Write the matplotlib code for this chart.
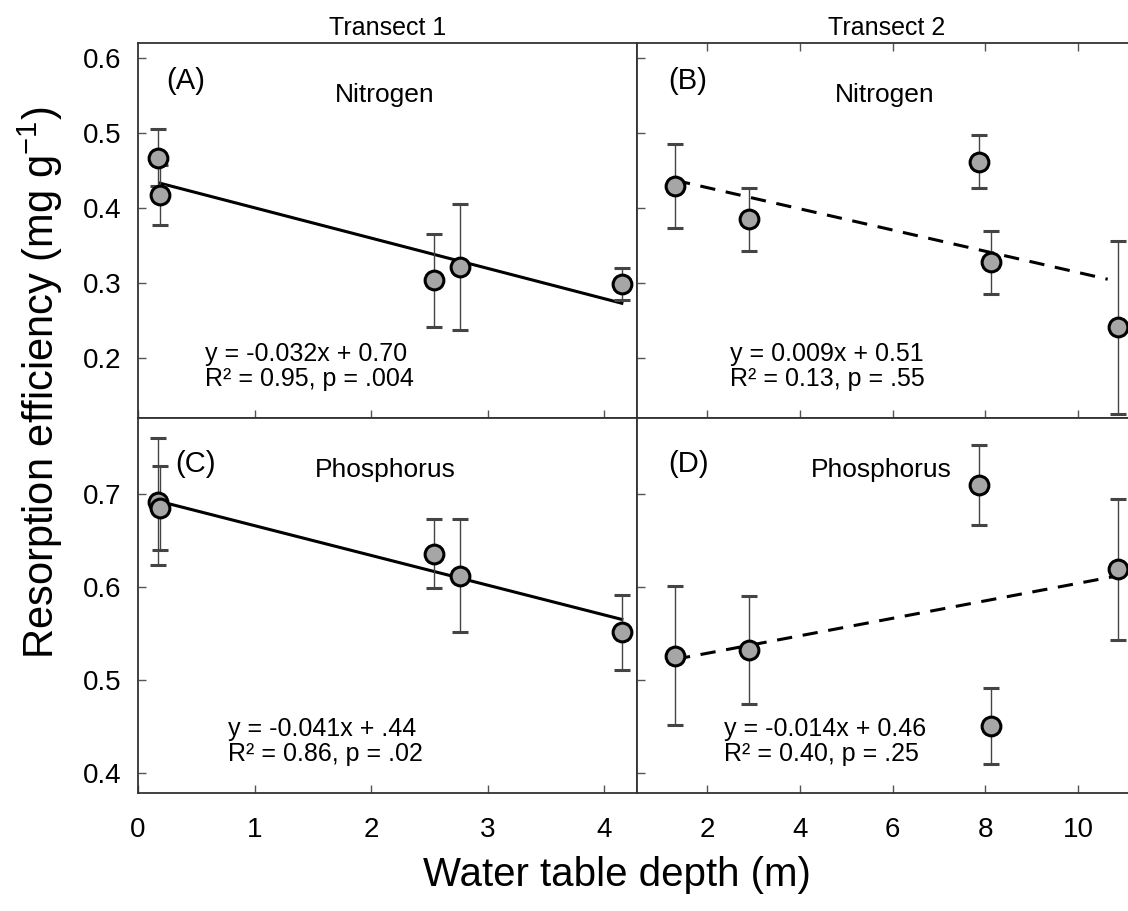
import matplotlib
matplotlib.use("Agg")
import matplotlib.pyplot as plt

plt.rcParams['font.family'] = ['Liberation Sans', 'DejaVu Sans']
plt.rcParams['mathtext.fontset'] = 'custom'
plt.rcParams['mathtext.rm'] = 'Liberation Sans'
plt.rcParams['mathtext.it'] = 'Liberation Sans'

# ---- data ----
# Transect 1
t1_x = [0.17, 0.19, 2.54, 2.76, 4.15]
t1_N = [0.467, 0.417, 0.304, 0.321, 0.299]
t1_N_err = [0.038, 0.040, 0.062, 0.084, 0.021]
t1_P = [0.692, 0.685, 0.636, 0.612, 0.551]
t1_P_err = [0.068, 0.045, 0.037, 0.061, 0.040]
# Transect 2
t2_x_N = [1.31, 2.90, 7.86, 8.12, 10.86]
t2_N = [0.430, 0.385, 0.462, 0.328, 0.241]
t2_N_err = [0.056, 0.042, 0.035, 0.042, 0.115]
t2_x_P = [1.31, 2.90, 7.86, 8.12, 10.86]
t2_P = [0.526, 0.532, 0.710, 0.450, 0.619]
t2_P_err = [0.075, 0.058, 0.043, 0.041, 0.076]

# fitted lines (end points)
fitA_x = [0.19, 4.15]; fitA_y = [0.433, 0.273]
fitB_x = [1.31, 10.64]; fitB_y = [0.437, 0.305]
fitC_x = [0.19, 4.15]; fitC_y = [0.692, 0.565]
fitD_x = [1.31, 10.86]; fitD_y = [0.522, 0.612]

labels = ['(A)', '(B)', '(C)', '(D)']
nutrients = ['Nitrogen', 'Nitrogen', 'Phosphorus', 'Phosphorus']
eq1 = ['y = -0.032x + 0.70', 'y = 0.009x + 0.51', 'y = -0.041x + .44', 'y = -0.014x + 0.46']
eq2 = ['R² = 0.95, p = .004', 'R² = 0.13, p = .55', 'R² = 0.86, p = .02', 'R² = 0.40, p = .25']

W, H = 1128, 911
fig = plt.figure(figsize=(W / 100, H / 100), dpi=100)

def pos(l, t, r, b):
    return [l / W, 1 - b / H, (r - l) / W, (b - t) / H]

axA = fig.add_axes(pos(138, 43, 637, 418))
axB = fig.add_axes(pos(637, 43, 1136, 418))
axC = fig.add_axes(pos(138, 418, 637, 793))
axD = fig.add_axes(pos(637, 418, 1136, 793))

mk = dict(fmt='o', ms=13.5, mfc='#a6a6a6', mec='black', mew=2.2,
          ecolor='#444444', elinewidth=1.0, capsize=5.5, capthick=1.0, zorder=3)

axA.errorbar(t1_x, t1_N, yerr=t1_N_err, **mk)
axA.plot(fitA_x, fitA_y, color='black', lw=2.2, zorder=2)
axB.errorbar(t2_x_N, t2_N, yerr=t2_N_err, **mk)
axB.plot(fitB_x, fitB_y, color='black', lw=2.2, ls=(0, (5, 3.5)), zorder=2)
axC.errorbar(t1_x, t1_P, yerr=t1_P_err, **mk)
axC.plot(fitC_x, fitC_y, color='black', lw=2.2, zorder=2)
axD.errorbar(t2_x_P, t2_P, yerr=t2_P_err, **mk)
axD.plot(fitD_x, fitD_y, color='black', lw=2.2, ls=(0, (5, 3.5)), zorder=2)

for ax in (axA, axC):
    ax.set_xlim(0, 4.28)
    ax.set_xticks([0, 1, 2, 3, 4])
for ax in (axB, axD):
    ax.set_xlim(0.49, 11.25)
    ax.set_xticks([2, 4, 6, 8, 10])
for ax in (axA, axB):
    ax.set_ylim(0.12, 0.62)
    ax.set_yticks([0.2, 0.3, 0.4, 0.5, 0.6])
for ax in (axC, axD):
    ax.set_ylim(0.378, 0.782)
    ax.set_yticks([0.4, 0.5, 0.6, 0.7])

for ax in (axA, axB, axC, axD):
    for s in ax.spines.values():
        s.set_linewidth(1.3)
        s.set_color('#333333')
    ax.tick_params(direction='in', length=6, width=1.0, color='#555555',
                   labelsize=20)
    ax.tick_params(axis='y', pad=12)
    ax.tick_params(axis='x', pad=17)
axB.tick_params(top=True)
for ax in (axA, axB):
    ax.tick_params(labelbottom=False)
for ax in (axB, axD):
    ax.tick_params(labelleft=False)
axA.set_yticklabels(['0.2', '0.3', '0.4', '0.5', '0.6'])
axC.set_yticklabels(['0.4', '0.5', '0.6', '0.7'])

axA.set_title('Transect 1', fontsize=18, pad=6)
axB.set_title('Transect 2', fontsize=18, pad=6)

axes = [axA, axB, axC, axD]
lab_pos = [(0.056, 0.899), (0.062, 0.899), (0.074, 0.877), (0.062, 0.877)]
nut_pos = [(0.495, 0.862), (0.497, 0.862), (0.495, 0.862), (0.49, 0.862)]
eq_pos = [(0.134, 0.171), (0.187, 0.171), (0.18, 0.170), (0.175, 0.170)]
for ax, lab, lp, nut, npos, e1, e2, ep in zip(axes, labels, lab_pos, nutrients, nut_pos, eq1, eq2, eq_pos):
    ax.text(lp[0], lp[1], lab, transform=ax.transAxes, fontsize=21, va='center', ha='left')
    ax.text(npos[0], npos[1], nut, transform=ax.transAxes, fontsize=19, va='center', ha='center')
    ax.text(ep[0], ep[1], e1, transform=ax.transAxes, fontsize=18, va='center', ha='left')
    ax.text(ep[0], ep[1] - 0.067, e2, transform=ax.transAxes, fontsize=18, va='center', ha='left')

fig.text(0.036, 0.58, 'Resorption efficiency (mg g$^{\\mathregular{-1}}$)', rotation=90,
         fontsize=30, va='center', ha='center')
fig.text(0.547, 0.040, 'Water table depth (m)', fontsize=29, va='center', ha='center')

fig.savefig('out.png', dpi=100)
